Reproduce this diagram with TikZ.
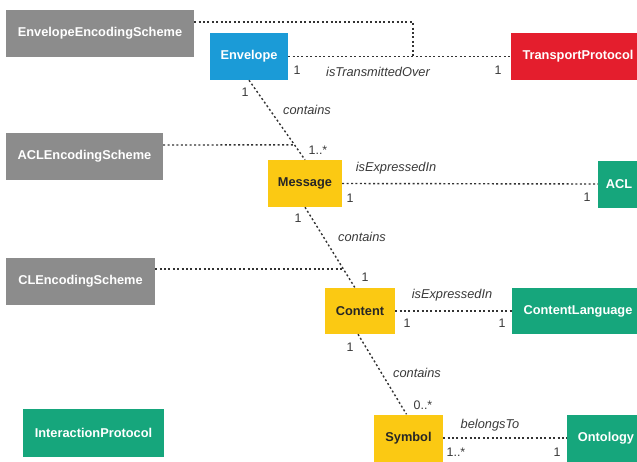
\documentclass[tikz,border=0pt]{standalone}
\usepackage{fontspec}
\setmainfont{Liberation Sans}
\usetikzlibrary{calc}
\definecolor{cgray}{HTML}{8C8C8C}
\definecolor{cblue}{HTML}{1B9BD7}
\definecolor{cred}{HTML}{E41E2D}
\definecolor{cyellow}{HTML}{FBC913}
\definecolor{cgreen}{HTML}{16A67C}
\definecolor{cline}{HTML}{333333}
\definecolor{ctext}{HTML}{3A3A3A}
\tikzset{
  box/.style={rectangle, inner sep=0pt, minimum height=47pt, text=white,
    font=\fontsize{12.8}{14}\selectfont\bfseries},
  graybox/.style={box, fill=cgray},
  bluebox/.style={box, fill=cblue},
  redbox/.style={box, fill=cred},
  yellowbox/.style={box, fill=cyellow, text=black!85},
  greenbox/.style={box, fill=cgreen},
  rel/.style={draw=cline, line width=1.4pt, dash pattern=on 2pt off 2.4pt},
  lbl/.style={inner sep=0pt, text=ctext, font=\fontsize{12.8}{14}\selectfont\itshape},
  mult/.style={inner sep=0pt, text=ctext, font=\fontsize{12.4}{14}\selectfont},
}
\begin{document}
\begin{tikzpicture}[x=1pt,y=-1pt]
\useasboundingbox (0,0) rectangle (637,461);
\clip (0,0) rectangle (637,461);
\fill[white] (0,0) rectangle (637,461);
% nodes
\node[graybox, minimum width=188pt] (ees) at (100,33.5) {EnvelopeEncodingScheme};
\node[bluebox, minimum width=78pt] (env) at (249,56.5) {Envelope};
\node[redbox, minimum width=134pt] (tp) at (578,56.5) {TransportProtocol};
\node[graybox, minimum width=157pt] (acles) at (84.5,156.5) {ACLEncodingScheme};
\node[yellowbox, minimum width=74pt] (msg) at (305,183.5) {Message};
\node[greenbox, minimum width=42pt] (acl) at (619,184) {ACL};
\node[graybox, minimum width=149pt] (cles) at (80.5,281.5) {CLEncodingScheme};
\node[yellowbox, minimum width=70pt, minimum height=46pt] (content) at (360,311) {Content};
\node[greenbox, minimum width=132pt, minimum height=46pt] (cl) at (578,311) {ContentLanguage};
\node[greenbox, minimum width=141pt, minimum height=48pt] (ip) at (93.5,433) {InteractionProtocol};
\node[yellowbox, minimum width=69pt] (sym) at (408.5,438) {Symbol};
\node[greenbox, minimum width=78pt] (onto) at (606,438) {Ontology};
% helper coordinates
\coordinate (c1) at (413,22);
\coordinate (c2) at (413,56.5);
\coordinate (j1) at ($(env.south)!0.8125!(msg.north)$);
\coordinate (cn) at ([xshift=-5pt]content.north);
\coordinate (j2) at ($(msg.south)!0.765!(cn)$);
% connectors
\draw[rel] (ees.east |- c1) -- (c1) -- (c2);
\draw[rel] (env.east) -- (tp.west);
\draw[rel] (env.south) -- (msg.north);
\draw[rel] (acles.east |- 0,145) -- (j1);
\draw[rel] (msg.east) -- (acl.west);
\draw[rel] (msg.south) -- (cn);
\draw[rel] (cles.east |- j2) -- (j2);
\draw[rel] (content.east) -- (cl.west);
\draw[rel] ([xshift=-2pt]content.south) -- ([xshift=-2pt]sym.north);
\draw[rel] (sym.east) -- (onto.west);
% labels
\node[mult] (m1) at (297,70) {1};
\node[lbl] (l1) at (378,72) {isTransmittedOver};
\node[mult] (m2) at (498,70) {1};
\node[mult] (m3) at (245,92) {1};
\node[lbl] (l2) at (307,110) {contains};
\node[mult] (m4) at (318,150) {1..*};
\node[lbl] (l3) at (396,168) {isExpressedIn};
\node[mult] (m5) at (350,198) {1};
\node[mult] (m6) at (587,197) {1};
\node[mult] (m7) at (298,218) {1};
\node[lbl] (l4) at (362,237) {contains};
\node[mult] (m8) at (365,277) {1};
\node[lbl] (l5) at (452,295) {isExpressedIn};
\node[mult] (m9) at (407,323) {1};
\node[mult] (m10) at (502,323) {1};
\node[mult] (m11) at (350,347) {1};
\node[lbl] (l6) at (417,373) {contains};
\node[mult] (m12) at (423,405) {0..*};
\node[lbl] (l7) at (490,425) {belongsTo};
\node[mult] (m13) at (456,452) {1..*};
\node[mult] (m14) at (557,452) {1};
\end{tikzpicture}
\end{document}
